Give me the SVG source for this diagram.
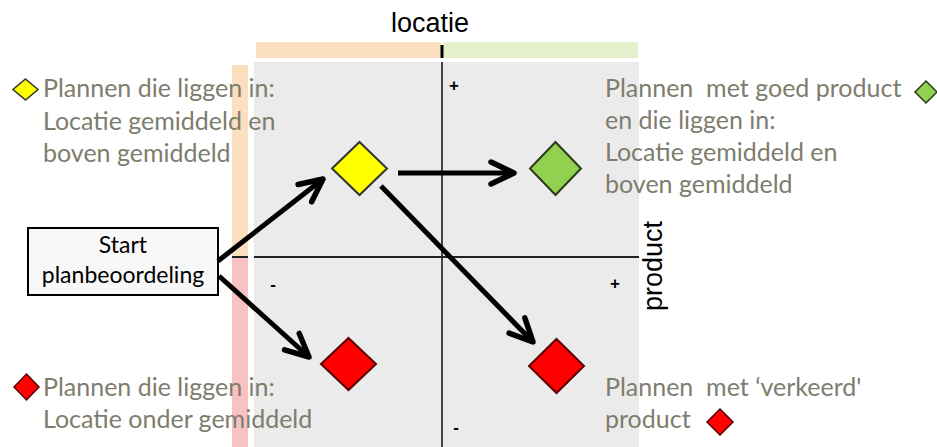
<svg xmlns="http://www.w3.org/2000/svg" width="937" height="447" viewBox="0 0 937 447">
<style>
.lbl{font-family:Lato,"Open Sans",sans-serif;font-size:25px;fill:#7d7d6e}
.ax{font-family:"Liberation Sans",Arial,sans-serif;font-size:27px;fill:#000}
.sign{font-family:"Liberation Sans",Arial,sans-serif;font-size:17px;font-weight:bold;fill:#000;text-anchor:middle}
.arr{fill:none;stroke:#000;stroke-width:5;marker-end:url(#ah)}
.dm{stroke-width:2}
</style>
<defs>
<marker id="ah" markerUnits="userSpaceOnUse" markerWidth="60" markerHeight="60" viewBox="-30 -30 60 60" refX="0" refY="0" orient="auto" overflow="visible">
<path d="M-23,-11 L0,0 L-23,11" fill="none" stroke="#000" stroke-width="5.5" stroke-linecap="round" stroke-linejoin="round"/>
</marker>
</defs>
<rect width="937" height="447" fill="#fff"/>
<g id="quadrant">
<rect x="254" y="62" width="385" height="385" fill="#ebebeb"/>
<rect x="256" y="42" width="185" height="16" fill="#fbdfbf"/>
<rect x="443" y="42" width="195" height="16" fill="#e4f0cc"/>
<rect x="232" y="65" width="16" height="191" fill="#fbdfbf"/>
<rect x="232" y="258" width="16" height="189" fill="#f9c2c2"/>
<line x1="232" y1="257" x2="248" y2="257" stroke="#222" stroke-width="2"/>
<line x1="442" y1="45" x2="442" y2="58" stroke="#000" stroke-width="3"/>
<line x1="442" y1="62" x2="442" y2="447" stroke="#444" stroke-width="2"/>
<line x1="254" y1="257" x2="639" y2="257" stroke="#222" stroke-width="2"/>
<text class="ax" x="430" y="32" text-anchor="middle">locatie</text>
<text class="ax" transform="translate(662,266) rotate(-90)" text-anchor="middle">product</text>
<text class="sign" x="454" y="91">+</text>
<text class="sign" x="615" y="289">+</text>
<text class="sign" x="273" y="290">-</text>
<text class="sign" x="456" y="433">-</text>
</g>
<g id="start">
<rect x="28" y="228" width="190" height="67" fill="#f8f8f8" stroke="#000" stroke-width="2"/>
<text x="123" y="253" text-anchor="middle" font-family="Lato,'Open Sans',sans-serif" font-size="23" fill="#000">Start</text>
<text x="123" y="283" text-anchor="middle" font-family="Lato,'Open Sans',sans-serif" font-size="23" fill="#000">planbeoordeling</text>
</g>
<g id="yellow">
<polygon class="dm" points="359.5,142 387,168.5 359.5,195 332,168.5" fill="#ffff00" stroke="#333"/>
</g>
<g id="green">
<polygon class="dm" points="555.5,142 581,168.5 555.5,195 530,168.5" fill="#92d050" stroke="#2a3a1a"/>
</g>
<g id="redLeft">
<polygon class="dm" points="348.5,338 376,364 348.5,390 321,364" fill="#ff0000" stroke="#5a0000"/>
</g>
<g id="redRight">
<polygon class="dm" points="556.5,339 584,366 556.5,393 529,366" fill="#ff0000" stroke="#5a0000"/>
</g>
<g id="connectors">
<line class="arr" x1="218" y1="261" x2="323" y2="179"/>
<line class="arr" x1="219" y1="276" x2="309" y2="357"/>
<line class="arr" x1="398" y1="173" x2="514" y2="173"/>
<line class="arr" x1="381" y1="186" x2="533" y2="342"/>
</g>
<g id="legendTopLeft">
<polygon points="25.5,79 38,89.5 25.5,100 13,89.5" fill="#ffff00" stroke="#333" stroke-width="1.5"/>
<text class="lbl" x="43" y="97">Plannen die liggen in:</text>
<text class="lbl" x="43" y="130">Locatie gemiddeld en</text>
<text class="lbl" x="43" y="162">boven gemiddeld</text>
</g>
<g id="legendTopRight">
<polygon points="926,81 937,92 926,103 915,92" fill="#92d050" stroke="#2a3a1a" stroke-width="1.5"/>
<text class="lbl" x="605" y="97" xml:space="preserve">Plannen  met goed product</text>
<text class="lbl" x="605" y="129">en die liggen in:</text>
<text class="lbl" x="605" y="161">Locatie gemiddeld en</text>
<text class="lbl" x="605" y="193">boven gemiddeld</text>
</g>
<g id="legendBottomLeft">
<polygon points="26.5,374 39,387 26.5,400 14,387" fill="#ff0000" stroke="#5a0000" stroke-width="1.5"/>
<text class="lbl" x="43" y="396">Plannen die liggen in:</text>
<text class="lbl" x="43" y="428">Locatie onder gemiddeld</text>
</g>
<g id="legendBottomRight">
<polygon points="720,409 733,422 720,435 707,422" fill="#ff0000" stroke="#5a0000" stroke-width="1.5"/>
<text class="lbl" x="605" y="396" xml:space="preserve">Plannen  met ‘verkeerd'</text>
<text class="lbl" x="605" y="428">product</text>
</g>
</svg>
